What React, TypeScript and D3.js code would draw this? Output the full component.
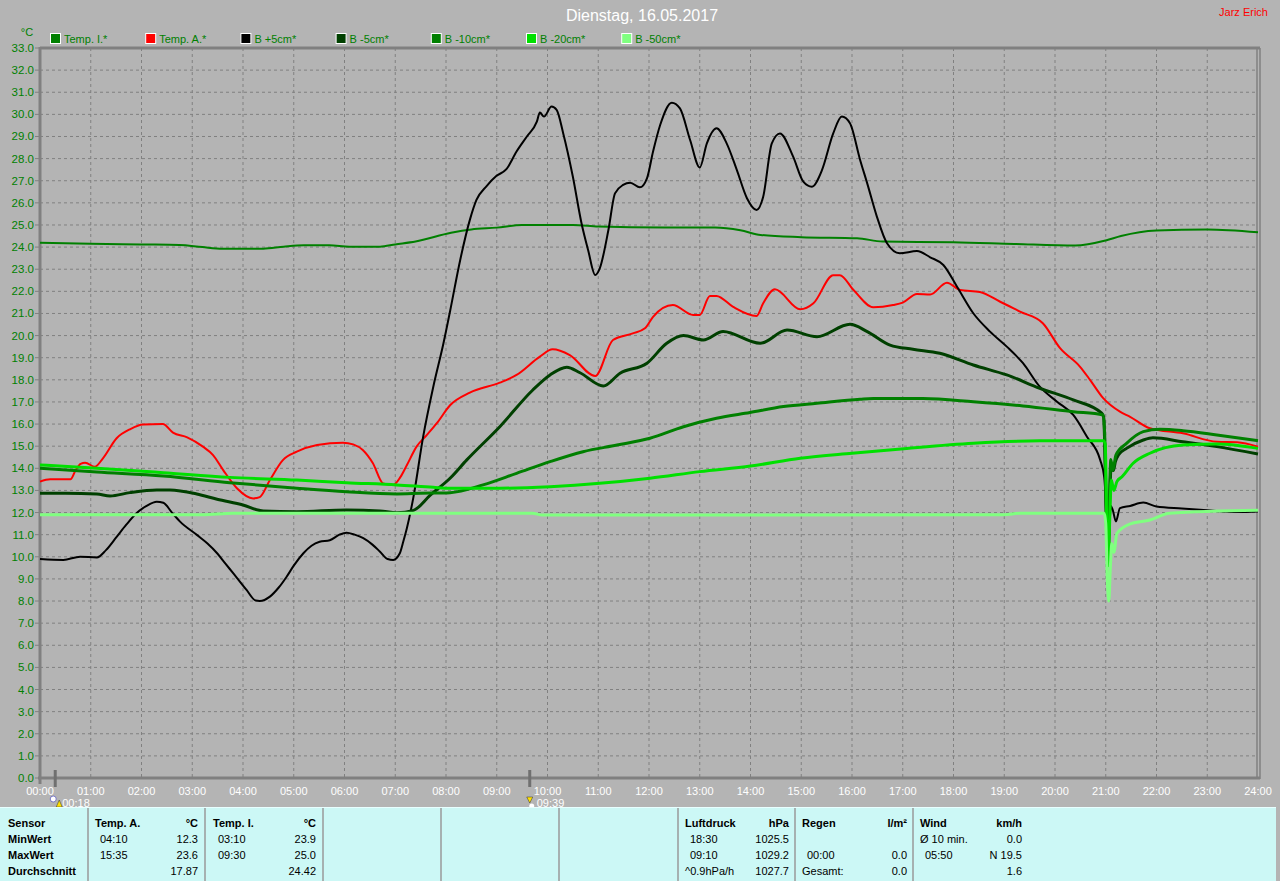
import * as d3 from "d3"

// [hour, °C]
const tempI = [
  [0, 24.2], [1, 24.15], [2, 24.12], [2.75, 24.1], [3.2, 24.0], [3.6, 23.93], [4.4, 23.93], [4.8, 24.02],
  [5.2, 24.08], [5.7, 24.08], [6.1, 24.02], [6.7, 24.02], [7.0, 24.12], [7.4, 24.25], [8.1, 24.65],
  [8.5, 24.8], [9.0, 24.88], [9.5, 25.0], [10.5, 25.0], [11.0, 24.93], [12.3, 24.88], [13.3, 24.88],
  [13.8, 24.76], [14.2, 24.55], [15.0, 24.45], [16.1, 24.4], [16.6, 24.25], [18.0, 24.22], [19.2, 24.14],
  [20.4, 24.07], [21.0, 24.3], [21.3, 24.5], [22.0, 24.75], [23.0, 24.8], [24.0, 24.67],
]
const tempA = [
  [0, 13.4], [0.2, 13.5], [0.6, 13.5], [0.7, 13.9], [0.8, 14.2], [0.89, 14.25], [1.08, 14.07], [1.24, 14.45],
  [1.51, 15.36], [1.77, 15.76], [2.03, 15.98], [2.42, 16.0], [2.62, 15.61], [2.9, 15.4], [3.21, 14.98],
  [3.41, 14.6], [3.61, 13.92], [3.88, 13.1], [4.2, 12.64], [4.33, 12.7], [4.53, 13.47], [4.79, 14.38],
  [5.06, 14.75], [5.46, 15.05], [5.97, 15.16], [6.17, 15.08], [6.36, 14.83], [6.56, 14.23], [6.76, 13.32],
  [6.96, 13.25], [7.1, 13.6], [7.23, 14.15], [7.42, 14.98], [7.62, 15.5], [7.82, 16.04], [8.08, 16.85],
  [8.47, 17.42], [9.06, 17.87], [9.39, 18.22], [9.85, 19.05], [10.1, 19.38], [10.44, 19.12], [10.94, 18.17],
  [11.29, 19.8], [11.68, 20.1], [11.92, 20.33], [12.08, 20.85], [12.47, 21.38], [12.87, 20.93], [13.0, 20.93],
  [13.2, 21.79], [13.33, 21.79], [13.65, 21.31], [14.12, 20.89], [14.25, 21.46], [14.48, 22.09], [14.98, 21.19],
  [15.24, 21.46], [15.63, 22.73], [15.76, 22.73], [16.03, 22.06], [16.42, 21.28], [16.81, 21.38], [17.0, 21.49],
  [17.28, 21.88], [17.54, 21.86], [17.87, 22.39], [18.13, 22.06], [18.52, 21.97], [18.92, 21.53], [19.31, 21.08],
  [19.76, 20.56], [20.1, 19.43], [20.49, 18.6], [20.69, 18.0], [20.95, 17.17], [21.28, 16.56], [21.48, 16.33],
  [21.87, 15.81], [22.52, 15.58], [23.19, 15.2], [23.59, 15.18], [24, 14.98],
]
const bPlus5 = [
  [0, 9.9], [0.46, 9.86], [0.79, 10.0], [1.12, 9.97], [1.3, 10.3], [1.51, 10.9], [1.7, 11.45], [1.9, 11.97],
  [2.1, 12.3], [2.3, 12.49], [2.43, 12.44], [2.6, 12.0], [2.76, 11.59], [3.09, 10.99], [3.3, 10.6], [3.49, 10.16],
  [3.65, 9.7], [3.81, 9.25], [4.07, 8.5], [4.25, 8.02], [4.33, 8.0], [4.53, 8.2], [4.7, 8.6], [4.86, 9.1],
  [5.0, 9.6], [5.19, 10.16], [5.35, 10.5], [5.51, 10.68], [5.71, 10.75], [5.9, 11.0], [6.04, 11.09], [6.2, 11.0],
  [6.37, 10.84], [6.55, 10.55], [6.7, 10.23], [6.85, 9.9], [6.96, 9.86], [7.09, 10.16], [7.16, 10.7], [7.23, 11.3],
  [7.36, 12.72], [7.55, 15.43], [7.75, 17.69], [7.95, 19.65], [8.08, 21.1], [8.28, 23.42], [8.47, 25.23],
  [8.6, 26.13], [8.8, 26.76], [8.99, 27.21], [9.19, 27.52], [9.39, 28.32], [9.59, 28.99], [9.79, 29.67],
  [9.85, 30.08], [9.93, 29.9], [10.08, 30.35], [10.18, 30.2], [10.31, 29.14], [10.5, 27.18], [10.67, 25.08],
  [10.8, 23.87], [10.94, 22.74], [11.03, 23.04], [11.2, 24.77], [11.33, 26.43], [11.49, 26.81], [11.63, 26.91],
  [11.82, 26.7], [11.96, 27.11], [12.08, 28.32], [12.22, 29.52], [12.45, 30.53], [12.61, 30.27], [12.81, 28.84],
  [13.0, 27.6], [13.14, 28.69], [13.33, 29.37], [13.53, 28.69], [13.73, 27.49], [13.93, 26.21], [14.12, 25.68],
  [14.25, 26.28], [14.42, 28.69], [14.58, 29.14], [14.84, 28.09], [15.04, 26.96], [15.21, 26.73], [15.41, 27.49],
  [15.63, 29.14], [15.8, 29.9], [15.96, 29.6], [16.16, 27.94], [16.3, 26.88], [16.49, 25.38], [16.69, 24.17],
  [16.94, 23.72], [17.28, 23.82], [17.54, 23.54], [17.8, 23.19], [18.07, 22.21], [18.39, 21.01], [18.72, 20.18],
  [19.05, 19.5], [19.37, 18.75], [19.7, 17.69], [20.04, 17.01], [20.36, 16.41], [20.63, 15.43], [20.89, 14.38],
  [20.97, 13.6], [21.0, 12.5], [21.03, 10.5], [21.05, 9.6], [21.07, 11.0], [21.1, 12.3], [21.14, 12.1],
  [21.2, 11.6], [21.28, 12.2], [21.48, 12.3], [21.74, 12.45], [22.0, 12.27], [22.5, 12.18], [23.0, 12.1],
  [23.6, 12.02], [24, 12.05],
]
const bMinus5 = [
  [0, 12.87], [0.5, 12.87], [1.12, 12.84], [1.38, 12.75], [1.77, 12.9], [2.3, 13.02], [2.56, 13.02], [3.09, 12.84],
  [3.49, 12.6], [4.0, 12.34], [4.4, 12.07], [5.06, 12.04], [6.04, 12.12], [6.7, 12.07], [7.03, 11.99], [7.36, 12.1],
  [7.69, 12.79], [8.08, 13.55], [8.41, 14.38], [9.06, 15.88], [9.71, 17.54], [10.05, 18.22], [10.38, 18.57],
  [10.64, 18.32], [11.1, 17.72], [11.43, 18.3], [11.96, 18.75], [12.35, 19.65], [12.68, 20.0], [13.07, 19.8],
  [13.46, 20.18], [14.19, 19.65], [14.72, 20.25], [15.31, 19.95], [15.96, 20.51], [16.3, 20.18], [16.75, 19.57],
  [17.2, 19.38], [17.73, 19.2], [18.39, 18.67], [19.05, 18.22], [19.7, 17.62], [20.36, 17.09], [20.92, 16.49],
  [20.96, 16.3], [20.99, 14.0], [21.02, 11.0], [21.05, 10.5], [21.08, 12.8], [21.11, 14.2], [21.15, 13.9],
  [21.19, 14.3], [21.25, 14.6], [21.41, 14.9], [21.74, 15.28], [21.93, 15.38], [22.52, 15.2], [23.19, 14.98],
  [24, 14.65],
]
const bMinus10 = [
  [0, 14.0], [1.12, 13.83], [2.43, 13.65], [3.74, 13.35], [5.06, 13.1], [6.04, 12.94], [7.03, 12.84], [7.5, 12.87],
  [8.08, 12.9], [8.73, 13.25], [9.39, 13.77], [10.05, 14.3], [10.7, 14.75], [11.37, 15.05], [12.02, 15.36],
  [12.68, 15.88], [13.33, 16.26], [13.99, 16.52], [14.65, 16.79], [15.31, 16.94], [16.16, 17.12], [16.42, 17.15],
  [17.4, 17.15], [18.39, 17.01], [19.37, 16.82], [20.36, 16.56], [20.95, 16.41], [20.98, 15.5], [21.01, 12.0],
  [21.04, 10.2], [21.07, 12.5], [21.1, 14.4], [21.14, 13.9], [21.2, 14.6], [21.41, 15.13], [21.74, 15.66],
  [22.07, 15.76], [22.52, 15.7], [23.19, 15.51], [24, 15.25],
]
const bMinus20 = [
  [0, 14.15], [1.12, 14.0], [2.43, 13.8], [3.74, 13.59], [5.06, 13.47], [6.04, 13.35], [7.03, 13.25],
  [7.75, 13.14], [8.08, 13.1], [9.06, 13.1], [10.05, 13.17], [11.03, 13.32], [12.02, 13.55], [13.0, 13.85],
  [14.0, 14.1], [14.98, 14.45], [16.0, 14.68], [17.08, 14.9], [18.39, 15.13], [19.7, 15.24], [20.95, 15.25],
  [20.99, 15.1], [21.02, 11.5], [21.05, 9.6], [21.08, 11.8], [21.11, 13.47], [21.16, 13.0], [21.22, 13.4],
  [21.32, 13.62], [21.54, 14.23], [21.87, 14.68], [22.52, 15.05], [23.19, 15.1], [24, 14.9],
]
const bMinus50 = [
  [0, 11.9], [3.2, 11.9], [3.8, 11.97], [9.7, 11.97], [9.9, 11.89], [19.0, 11.9], [19.3, 11.97], [20.97, 11.97],
  [21.0, 11.5], [21.03, 9.0], [21.06, 8.0], [21.09, 9.5], [21.12, 10.6], [21.16, 10.2], [21.22, 11.06],
  [21.5, 11.5], [21.87, 11.66], [22.26, 11.97], [24, 12.1],
]

const seriesNames = ["Temp. I.*", "Temp. A.*", "B +5cm*", "B -5cm*", "B -10cm*", "B -20cm*", "B -50cm*"]
const seriesData = [tempI, tempA, bPlus5, bMinus5, bMinus10, bMinus20, bMinus50]
const seriesColors = ["#008000", "#ff0000", "#000000", "#004000", "#008000", "#00e000", "#80ff80"]
const seriesWidths = [2, 2, 2, 3, 3, 3, 3]

const yTicks = d3.range(0, 34)
const hourTicks = d3.range(0, 25)
const markers = [
  { h: 0.3, label: "00:18", icon: "moon" },
  { h: 9.65, label: "09:39", icon: "sun" },
]

const rowLabels = ["Sensor", "MinWert", "MaxWert", "Durchschnitt"]
const tempACol = [["Temp. A.", "°C"], ["04:10", "12.3"], ["15:35", "23.6"], ["", "17.87"]]
const tempICol = [["Temp. I.", "°C"], ["03:10", "23.9"], ["09:30", "25.0"], ["", "24.42"]]
const pressureCol = [["Luftdruck", "hPa"], ["18:30", "1025.5"], ["09:10", "1029.2"], ["^0.9hPa/h", "1027.7"]]
const rainCol = [["Regen", "l/m²"], ["", ""], ["00:00", "0.0"], ["Gesamt:", "0.0"]]
const windCol = [["Wind", "km/h"], ["Ø 10 min.", "0.0"], ["05:50", "N 19.5"], ["", "1.6"]]

const W = 1280
const H = 881
const plot = { left: 40, right: 1258, top: 48, bottom: 778 }
const FONT = "'Liberation Sans', Arial, sans-serif"

export default function App() {
  const x = d3.scaleLinear().domain([0, 24]).range([plot.left, plot.right])
  const y = d3.scaleLinear().domain([0, 33]).range([plot.bottom, plot.top])
  const line = d3
    .line<number[]>()
    .x((d) => x(d[0]))
    .y((d) => y(d[1]))
    .curve(d3.curveMonotoneX)

  const rowY = [823, 839, 855, 871]
  const columns = [
    { data: tempACol, left: 95, right: 198 },
    { data: tempICol, left: 213, right: 316 },
    { data: pressureCol, left: 685, right: 789 },
    { data: rainCol, left: 802, right: 907 },
    { data: windCol, left: 920, right: 1022 },
  ]
  const separators = [88, 205, 323, 441, 559, 678, 795, 913]

  return (
    <div style={{ position: "absolute", left: 0, top: 0 }}>
      <svg width={W} height={H} style={{ display: "block", fontFamily: FONT }}>
        <rect width={W} height={H} fill="#b4b4b4" />

        <text x={642} y={21} textAnchor="middle" fill="#ffffff" fontSize={16}>
          Dienstag, 16.05.2017
        </text>
        <text x={1268} y={16} textAnchor="end" fill="#ff0000" fontSize={11}>
          Jarz Erich
        </text>
        <text x={27} y={36} textAnchor="middle" fill="#008000" fontSize={11}>
          °C
        </text>

        {seriesNames.map((name, i) => (
          <g key={name} transform={`translate(${50 + i * 95.2},33)`}>
            <rect x={0.5} y={0.5} width={10} height={10} fill={seriesColors[i]} stroke="#ffffff" />
            <text x={14} y={10} fill="#008000" fontSize={11}>
              {name}
            </text>
          </g>
        ))}

        {/* grid */}
        {yTicks.slice(1, -1).map((t) => (
          <line key={"gy" + t} x1={plot.left} x2={plot.right} y1={y(t)} y2={y(t)} stroke="#808080" strokeDasharray="3,3" />
        ))}
        {hourTicks.slice(1, -1).map((h) => (
          <line key={"gx" + h} x1={x(h)} x2={x(h)} y1={plot.top} y2={plot.bottom} stroke="#808080" strokeDasharray="3,3" />
        ))}

        {/* y labels */}
        {yTicks.map((t) => (
          <g key={"yl" + t}>
            <line x1={35} x2={plot.left} y1={y(t)} y2={y(t)} stroke="#808080" />
            <text x={34} y={y(t) + 4} textAnchor="end" fill="#008000" fontSize={11.5}>
              {t.toFixed(1)}
            </text>
          </g>
        ))}

        {/* x labels */}
        {hourTicks.map((h) => (
          <text key={"xl" + h} x={x(h)} y={795} textAnchor="middle" fill="#ffffff" fontSize={11}>
            {String(h).padStart(2, "0")}:00
          </text>
        ))}

        {/* frame */}
        <line x1={plot.left} x2={plot.right + 2} y1={plot.top} y2={plot.top} stroke="#808080" strokeWidth={3} />
        <line x1={plot.right - 1} x2={plot.right - 1} y1={plot.top} y2={plot.bottom} stroke="#808080" strokeWidth={1.5} />
        <line x1={plot.right + 2} x2={plot.right + 2} y1={plot.top} y2={plot.bottom + 1} stroke="#808080" strokeWidth={1.5} />
        <line x1={plot.left} x2={plot.left} y1={plot.top - 1} y2={plot.bottom + 6} stroke="#808080" strokeWidth={3} />
        <line x1={plot.left - 2} x2={plot.right + 2} y1={plot.bottom} y2={plot.bottom} stroke="#808080" strokeWidth={3} />

        {/* series */}
        {seriesData.map((d, i) => (
          <path
            key={seriesNames[i]}
            d={line(d) || ""}
            fill="none"
            stroke={seriesColors[i]}
            strokeWidth={seriesWidths[i]}
            strokeLinejoin="round"
          />
        ))}

        {/* event markers */}
        {markers.map((m) => (
          <g key={m.label}>
            <line x1={x(m.h)} x2={x(m.h)} y1={770} y2={787} stroke="#707070" strokeWidth={3} />
            {m.icon === "moon" ? (
              <>
                <circle cx={x(m.h) - 2} cy={799} r={3} fill="#ffffff" stroke="#6060c0" strokeWidth={0.8} />
                <path d={`M${x(m.h) + 1},807 l3,-7 l3,7 z`} fill="#ffe000" stroke="#303030" strokeWidth={0.5} />
              </>
            ) : (
              <>
                <path d={`M${x(m.h) - 3},797 l3,6 l3,-6 z`} fill="#ffe000" stroke="#303030" strokeWidth={0.5} />
                <circle cx={x(m.h) + 2} cy={806} r={2.5} fill="#ffffff" />
              </>
            )}
            <text x={x(m.h) + 7} y={807} fill="#ffffff" fontSize={11}>
              {m.label}
            </text>
          </g>
        ))}

        {/* table */}
        <rect x={0} y={807} width={1276} height={H - 807} fill="#ccf8f6" />
        <line x1={0} x2={1276} y1={807.5} y2={807.5} stroke="#e8ffff" />
        {separators.map((s) => (
          <line key={"sep" + s} x1={s} x2={s} y1={808} y2={H} stroke="#9a9a9a" strokeWidth={1.5} />
        ))}
        {rowLabels.map((r, i) => (
          <text key={r} x={8} y={rowY[i] + 4} fontSize={11} fontWeight="bold" fill="#000000">
            {r}
          </text>
        ))}
        {columns.map((c, ci) =>
          c.data.map((row, ri) => (
            <g key={ci + "-" + ri} fontSize={11} fill="#000000" fontWeight={ri === 0 ? "bold" : "normal"}>
              <text x={ri === 0 || row[0].startsWith("^") || row[0].startsWith("Ø") || row[0].startsWith("G") ? c.left : c.left + 5} y={rowY[ri] + 4}>
                {row[0]}
              </text>
              <text x={c.right} y={rowY[ri] + 4} textAnchor="end">
                {row[1]}
              </text>
            </g>
          ))
        )}
      </svg>
    </div>
  )
}
